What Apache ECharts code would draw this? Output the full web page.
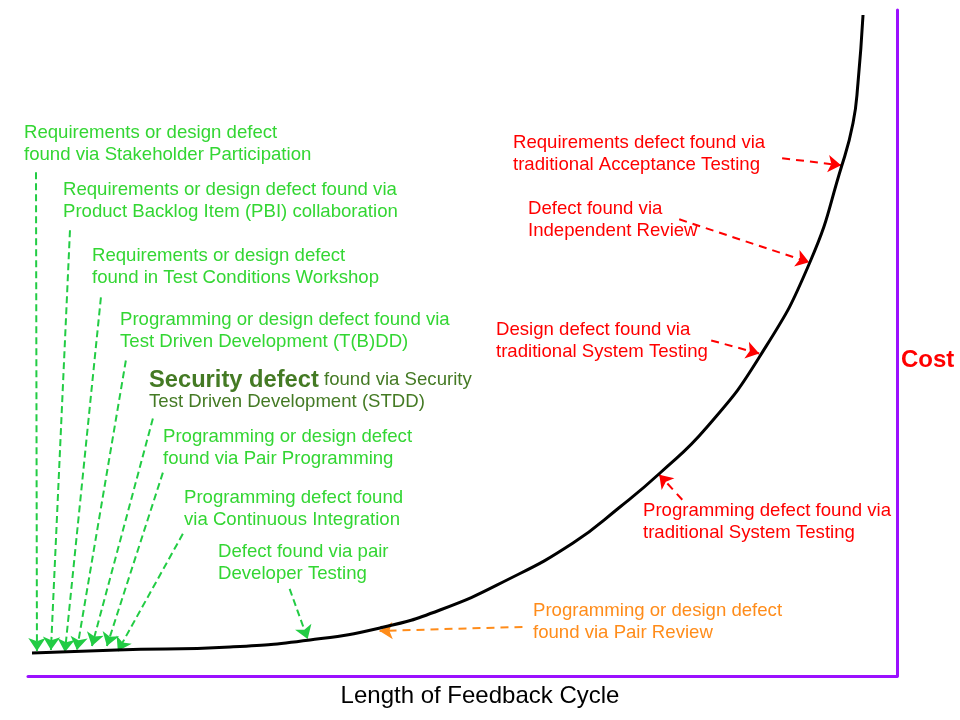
<!DOCTYPE html>
<html><head><meta charset="utf-8">
<script src="https://cdn.jsdelivr.net/npm/echarts@6/dist/echarts.min.js"></script>
<style>html,body{margin:0;padding:0;background:#fff}#c{width:960px;height:720px}</style>
</head><body><div id="c"></div>
<script>
// Cost curve (x = length of feedback cycle, y = cost), 0..100 scale
const curveX = [0.46, 10.24, 23.25, 32.45, 40.51, 47.41, 55.12, 62.72, 68.12, 72.73, 78.14, 84.24, 89.99, 93.67, 94.94, 95.51, 96.09];
const curveY = [3.45, 3.90, 4.35, 5.41, 7.21, 9.91, 14.41, 19.97, 25.38, 30.48, 37.39, 48.05, 62.16, 76.73, 83.03, 89.04, 99.25];

// Annotation texts
const greenLabels = [
  'Requirements or design defect\nfound via Stakeholder Participation',
  'Requirements or design defect found via\nProduct Backlog Item (PBI) collaboration',
  'Requirements or design defect\nfound in Test Conditions Workshop',
  'Programming or design defect found via\nTest Driven Development (T(B)DD)',
  '{b|Security defect} found via Security\nTest Driven Development (STDD)',
  'Programming or design defect\nfound via Pair Programming',
  'Programming defect found\nvia Continuous Integration',
  'Defect found via pair\nDeveloper Testing'
];
const redLabels = [
  'Requirements defect found via\ntraditional Acceptance Testing',
  'Defect found via\nIndependent Review',
  'Design defect found via\ntraditional System Testing',
  'Programming defect found via\ntraditional System Testing'
];
const orangeLabels = ['Programming or design defect\nfound via Pair Review'];
const xAxisTitle = 'Length of Feedback Cycle';
const yAxisTitle = 'Cost';

// Arrow start / end points (data coordinates)
const greenArrowStart = [[0.92,75.64],[4.83,66.92],[8.39,56.84],[11.26,47.37],[14.37,38.65],[15.52,30.53],[17.82,21.35],[30.11,13.08]];
const greenArrowEnd   = [[1.03,3.76],[2.64,3.91],[4.25,3.61],[5.63,3.91],[7.36,4.51],[9.08,4.51],[10.34,3.76],[32.18,5.56]];
const redArrowStart = [[86.78,77.74],[74.94,68.57],[78.62,50.38],[75.29,26.47]];
const redArrowEnd   = [[93.56,76.69],[89.89,62.11],[84.14,48.42],[72.64,30.23]];
const orangeArrowStart = [[56.90,7.37]];
const orangeArrowEnd   = [[40.46,6.77]];

// Layout (pixel positions of annotation text blocks)
const greenPos = [[24,122],[63,179],[92,245],[120,309],[149,369],[163,426],[184,487],[218,541]];
const redPos = [[513,132],[528,198],[496,319],[643,500]];
const orangePos = [[533,600]];

const GREEN_TXT = '#33d633', GREEN_ARR = '#22cc44', SEC = '#447a24', RED = '#ff0000', ORANGE = '#ff8c1a', PURPLE = '#9b10ff';
const FAMILY = '"Liberation Sans", Arial, sans-serif';
const FONT = '18.6px ' + FAMILY;

function arrows(starts, ends, color, dash) {
  return {
    type: 'lines', coordinateSystem: 'cartesian2d', silent: true, z: 3,
    symbol: ['none', 'arrow'], symbolSize: 13,
    lineStyle: { color: color, width: 2, type: dash, opacity: 1, curveness: 0 },
    data: starts.map((s, i) => ({ coords: [s, ends[i]] }))
  };
}
function texts(labels, pos, colors) {
  return labels.map((t, i) => ({
    type: 'text', x: pos[i][0], y: pos[i][1], z: 10,
    style: {
      text: t, fill: colors[i], font: FONT, lineHeight: 22,
      verticalAlign: 'top', align: 'left',
      rich: { b: { font: 'bold 23.7px ' + FAMILY, fill: SEC, lineHeight: 22 } }
    }
  }));
}

const graphics = [].concat(
  texts(greenLabels, greenPos, greenLabels.map((t, i) => i === 4 ? SEC : GREEN_TXT)),
  texts(redLabels, redPos, redLabels.map(() => RED)),
  texts(orangeLabels, orangePos, [ORANGE]),
  [
    { type: 'text', x: 480, y: 696, style: { text: xAxisTitle, fill: '#000', font: '24px ' + FAMILY, align: 'center', verticalAlign: 'middle' } },
    { type: 'text', x: 901, y: 360, style: { text: yAxisTitle, fill: RED, font: 'bold 24px ' + FAMILY, align: 'left', verticalAlign: 'middle' } }
  ]
);

const chart = echarts.init(document.getElementById('c'), null, { renderer: 'canvas' });
chart.setOption({
  animation: false,
  backgroundColor: '#fff',
  grid: { left: 28, right: 63, top: 10, bottom: 44 },
  xAxis: { type: 'value', min: 0, max: 100, axisLine: { show: true, onZero: false, lineStyle: { color: PURPLE, width: 3 } }, axisTick: { show: false }, axisLabel: { show: false }, splitLine: { show: false } },
  yAxis: { type: 'value', min: 0, max: 100, position: 'right', axisLine: { show: true, onZero: false, lineStyle: { color: PURPLE, width: 3 } }, axisTick: { show: false }, axisLabel: { show: false }, splitLine: { show: false } },
  graphic: graphics,
  series: [
    { type: 'line', data: curveX.map((x, i) => [x, curveY[i]]), smooth: 0.5, showSymbol: false, symbol: 'none', z: 4,
      lineStyle: { color: '#000', width: 3 } },
    arrows(greenArrowStart, greenArrowEnd, GREEN_ARR, [7, 4]),
    arrows(redArrowStart, redArrowEnd, RED, [8, 6]),
    arrows(orangeArrowStart, orangeArrowEnd, ORANGE, [8, 6])
  ]
});
</script></body></html>
